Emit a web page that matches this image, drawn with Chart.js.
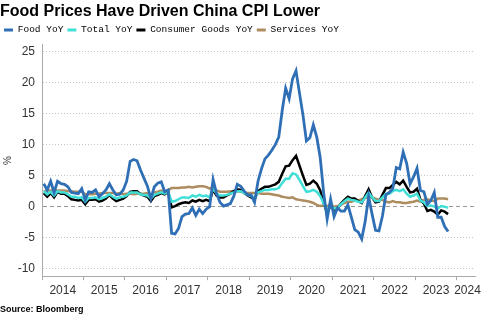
<!DOCTYPE html>
<html><head><meta charset="utf-8">
<script src="https://cdn.jsdelivr.net/npm/chart.js@4.4.0/dist/chart.umd.min.js"></script>
<style>html,body{margin:0;padding:0;background:#fff}#wrap{width:485px;height:325px;position:relative}</style>
</head><body><div id="wrap"><canvas id="c"></canvas></div>
<script>
// Monthly YoY %, Jan 2014 – Oct 2023
const foodYoY = [
  3.7, 2.7, 4.1, 2.3, 4.1, 3.7, 3.6, 3.2, 2.3, 2.2, 2.1, 2.9,
  1.1, 2.4, 2.3, 2.7, 1.6, 2.1, 2.7, 3.7, 2.7, 1.9, 2.0, 2.7,
  4.1, 7.3, 7.6, 7.4, 5.9, 4.6, 3.3, 1.3, 3.2, 3.8, 4.0, 2.4,
  2.7, -4.3, -4.4, -3.5, -1.6, -1.2, -1.1, -0.2, -1.4, -0.4, -1.1, -0.4,
  0.0, 4.4, 2.1, 0.7, 0.1, 0.3, 0.5, 1.7, 3.6, 3.3, 2.5, 1.9,
  1.9, 0.7, 4.1, 6.1, 7.7, 8.3, 9.1, 10.0, 11.2, 15.5, 19.1, 17.4,
  20.6, 21.9, 18.3, 14.8, 10.6, 11.1, 13.2, 11.2, 7.9, 2.2, -2.0, 1.2,
  -1.6, -0.2, -0.7, -0.7, 0.3, -1.7, -3.7, -4.1, -5.2, -2.4, 1.6, -1.2,
  -3.8, -3.9, -1.5, 1.9, 2.3, 2.9, 6.3, 6.1, 8.8, 7.0, 3.7, 4.8,
  6.2, 2.6, 2.4, 0.4, 1.0, 2.3, -1.7, -1.7, -3.2, -4.0
];
const totalYoY = [
  2.5, 2.0, 2.4, 1.8, 2.5, 2.3, 2.3, 2.0, 1.6, 1.6, 1.4, 1.5,
  0.8, 1.4, 1.4, 1.5, 1.2, 1.4, 1.6, 2.0, 1.6, 1.3, 1.5, 1.6,
  1.8, 2.3, 2.3, 2.3, 2.0, 1.9, 1.8, 1.3, 1.9, 2.1, 2.3, 2.1,
  2.5, 0.8, 0.9, 1.2, 1.5, 1.5, 1.4, 1.8, 1.6, 1.9, 1.7, 1.8,
  1.5, 2.9, 2.1, 1.8, 1.8, 1.9, 2.1, 2.3, 2.5, 2.5, 2.2, 1.9,
  1.7, 1.5, 2.3, 2.5, 2.7, 2.7, 2.8, 2.8, 3.0, 3.8, 4.5, 4.5,
  5.4, 5.2, 4.3, 3.3, 2.4, 2.5, 2.7, 2.4, 1.7, 0.5, -0.5, 0.2,
  -0.3, -0.2, 0.4, 0.9, 1.3, 1.1, 1.0, 0.8, 0.7, 1.5, 2.3, 1.5,
  0.9, 0.9, 1.5, 2.1, 2.1, 2.5, 2.7, 2.5, 2.8, 2.1, 1.6, 1.8,
  2.1, 1.0, 0.7, 0.1, 0.2, 0.0, -0.3, 0.1, 0.0, -0.2
];
const consumerGoodsYoY = [
  2.2, 1.6, 2.2, 1.5, 2.4, 2.1, 2.1, 1.7, 1.2, 1.1, 1.0, 1.1,
  0.4, 1.1, 1.1, 1.2, 0.8, 1.0, 1.3, 1.9, 1.3, 0.9, 1.1, 1.3,
  1.7, 2.4, 2.5, 2.5, 2.0, 1.8, 1.6, 0.9, 1.7, 1.9, 2.2, 2.0,
  2.4, -0.1, 0.1, 0.4, 0.6, 0.7, 0.6, 1.0, 0.8, 1.1, 0.9, 1.1,
  0.9, 2.7, 1.8, 1.5, 1.5, 1.8, 2.1, 2.5, 2.8, 2.7, 2.2, 1.8,
  1.5, 1.2, 2.5, 2.9, 3.2, 3.2, 3.4, 3.6, 4.0, 5.3, 6.5, 6.6,
  7.5, 8.2, 6.6, 5.0, 3.5, 3.7, 4.2, 3.7, 2.6, 0.6, -1.0, 0.2,
  -0.5, -0.3, 0.5, 1.1, 1.6, 1.3, 1.3, 0.9, 0.6, 1.7, 2.8, 1.5,
  0.7, 0.8, 1.9, 3.0, 3.0, 3.5, 4.0, 3.6, 4.2, 3.2, 2.3, 2.4,
  2.9, 1.1, 0.5, -0.7, -0.5, -0.8, -1.3, -0.6, -0.8, -1.2
];
const servicesYoY = [
  2.5, 2.6, 2.6, 2.6, 2.6, 2.6, 2.6, 2.5, 2.5, 2.4, 2.4, 2.4,
  2.0, 2.0, 2.0, 2.1, 2.1, 2.2, 2.2, 2.2, 2.2, 2.1, 2.2, 2.0,
  2.1, 2.1, 2.0, 2.1, 2.1, 2.1, 2.2, 1.9, 2.3, 2.4, 2.6, 2.4,
  2.6, 3.0, 3.0, 3.0, 3.1, 3.1, 3.2, 3.1, 3.2, 3.3, 3.3, 3.2,
  2.9, 3.2, 2.6, 2.4, 2.4, 2.4, 2.5, 2.5, 2.5, 2.4, 2.3, 2.2,
  2.2, 2.2, 2.2, 2.1, 2.1, 2.1, 2.0, 1.9, 1.8, 1.6, 1.5, 1.4,
  1.5, 1.2, 1.1, 1.0, 0.9, 0.8, 0.6, 0.3, 0.1, 0.2, 0.1, 0.3,
  0.0, 0.1, 0.3, 0.6, 0.8, 0.8, 1.0, 1.0, 1.2, 1.4, 1.6, 1.5,
  1.3, 1.1, 1.1, 0.8, 0.7, 0.9, 0.7, 0.7, 0.6, 0.6, 0.7, 0.8,
  1.0, 0.8, 1.1, 1.2, 1.0, 0.9, 1.3, 1.3, 1.3, 1.2
];
const seriesNames = ['Food YoY', 'Total YoY', 'Consumer Goods YoY', 'Services YoY'];
const yearTicks = [2014, 2015, 2016, 2017, 2018, 2019, 2020, 2021, 2022, 2023, 2024];
const yTickValues = [-10, -5, 0, 5, 10, 15, 20, 25];
const firstYear = 2014;

// month position on a fractional-year axis (mid-month)
const monthPos = foodYoY.map((_, i) => firstYear + (i + 0.5) / 12);
const xMin = 2014, xMax = 2024.44;
const colors = ['#2f6fb6', '#40e0d8', '#000000', '#ad8c60'];
const widths = [2.8, 2.5, 2.5, 2.5];
const seriesData = [foodYoY, totalYoY, consumerGoodsYoY, servicesYoY];

const labelFont = "'Liberation Sans', Arial, sans-serif";

new Chart(document.getElementById('c'), {
  type: 'line',
  data: {
    labels: monthPos,
    datasets: seriesData.map((d, k) => ({
      label: seriesNames[k],
      data: d,
      borderColor: colors[k],
      backgroundColor: colors[k],
      borderWidth: widths[k],
      pointRadius: 0,
      tension: 0,
      fill: false
    }))
  },
  options: {
    responsive: true,
    maintainAspectRatio: false,
    animation: false,
    layout: { padding: { left: 0, right: 10, top: 0, bottom: 0 } },
    plugins: {
      title: {
        display: true,
        text: 'Food Prices Have Driven China CPI Lower',
        align: 'start',
        color: '#000',
        font: { family: "'Liberation Sans', Arial, sans-serif", size: 16, weight: 'bold' },
        padding: { top: 2, bottom: 0 }
      },
      legend: {
        position: 'top',
        align: 'start',
        labels: {
          font: { family: "'Liberation Mono', monospace", size: 9.5 },
          color: '#222',
          boxWidth: 9,
          boxHeight: 3,
          padding: 4,
          generateLabels: (chart) => chart.data.datasets.map((ds, i) => ({
            text: ds.label, fillStyle: ds.borderColor, strokeStyle: ds.borderColor,
            lineWidth: 0, hidden: false, datasetIndex: i
          }))
        }
      },
      subtitle: {
        display: true,
        text: 'Source: Bloomberg',
        position: 'bottom',
        align: 'start',
        color: '#000',
        font: { family: "'Liberation Sans', Arial, sans-serif", size: 9, weight: 'bold' },
        padding: { top: 6, bottom: 10 }
      },
      tooltip: { enabled: false }
    },
    scales: {
      x: {
        type: 'linear',
        position: 'bottom',
        min: xMin, max: xMax,
        afterBuildTicks: (s) => { s.ticks = yearTicks.map(v => ({ value: v })); },
        afterFit: (s) => { s.height = 4; },
        ticks: { display: false },
        grid: { drawOnChartArea: false, drawTicks: true, tickLength: 4, color: '#aaa' },
        border: { display: true, color: '#aaa' }
      },
      xLabels: {
        type: 'linear',
        axis: 'x',
        position: 'bottom',
        min: xMin, max: xMax,
        afterBuildTicks: (s) => { s.ticks = yearTicks.map(v => ({ value: v === 2024 ? 2024.26 : v + 0.5 })); },
        afterFit: (s) => { s.height = 18; },
        ticks: {
          autoSkip: false, maxRotation: 0, padding: 3,
          color: '#333',
          font: { family: labelFont, size: 12 },
          callback: (v) => String(Math.floor(v))
        },
        grid: { display: false, drawTicks: false },
        border: { display: false }
      },
      y: {
        min: -11.2, max: 26.1,
        afterBuildTicks: (s) => { s.ticks = yTickValues.map(v => ({ value: v })); },
        afterFit: (s) => { s.width = 42; },
        ticks: { color: '#333', padding: 7, font: { family: labelFont, size: 12 } },
        grid: {
          drawTicks: false,
          color: (c) => c.tick && c.tick.value === 0 ? '#999' : '#c4c4c4',
          lineWidth: 1
        },
        border: {
          display: true, color: '#aaa',
          dash: (c) => c.tick && c.tick.value === 0 ? [4, 3] : [1, 2]
        },
        title: {
          display: true, text: '%', color: '#333',
          font: { family: "'Liberation Sans', Arial, sans-serif", size: 10 },
          padding: { top: 2, bottom: 0 }
        }
      }
    }
  }
});
</script>
</body></html>
